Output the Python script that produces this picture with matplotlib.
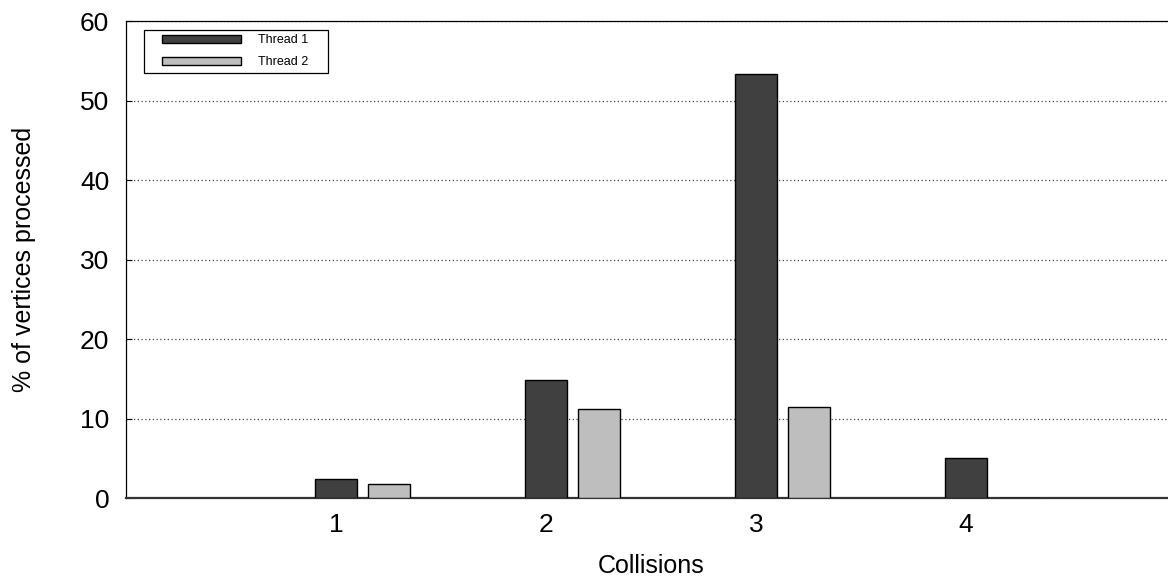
import numpy as np
import matplotlib
matplotlib.use("Agg")
import matplotlib.pyplot as plt
from matplotlib.patches import Rectangle
from matplotlib.container import BarContainer
from matplotlib.legend_handler import HandlerPatch, update_from_first_child

plt.rcParams['font.family'] = ['Liberation Sans', 'DejaVu Sans']

collisions = [1, 2, 3, 4]
thread1 = [2.35, 14.9, 53.3, 5.0]
thread2 = [1.75, 11.2, 11.4, 0.0]
labels = ['Thread 1', 'Thread 2']
colors = ['#404040', '#bebebe']


def inset_key(legend, orig_handle, xdescent, ydescent, width, height, fontsize):
    # key box sits a little in from the frame, like gnuplot's
    off = 10
    return Rectangle((-xdescent + off, -ydescent), width - off, height)


fig = plt.figure(figsize=(11.68, 5.85), dpi=100)
ax = fig.add_axes([0.1079, 0.1487, 0.8990, 0.8153])

x = np.array(collisions, dtype=float)
w = 0.2
ax.bar(x, thread1, width=w, color=colors[0], edgecolor='black', linewidth=1, label=labels[0], zorder=3)
ax.bar(x + 0.25, thread2, width=w, color=colors[1], edgecolor='black', linewidth=1, label=labels[1], zorder=3)

ax.set_xlim(0, 5)
ax.set_ylim(0, 60)
ax.set_xticks(collisions)
ax.set_yticks(range(0, 61, 10))
ax.tick_params(axis='y', direction='in', length=4, labelsize=19, pad=12)
ax.tick_params(axis='x', length=0, labelsize=19, pad=11)

ax.yaxis.grid(True, linestyle=(0, (1, 2)), color='#444444', linewidth=0.9, zorder=0)
ax.set_axisbelow(True)

ax.spines['right'].set_visible(False)
ax.spines['bottom'].set_linewidth(1.6)
ax.spines['bottom'].set_color('#333333')
ax.spines['top'].set_linewidth(0.9)
ax.spines['left'].set_linewidth(0.9)

ax.set_xlabel('Collisions', fontsize=18, labelpad=12)
ax.set_ylabel('% of vertices processed', fontsize=18, labelpad=32)

key = HandlerPatch(patch_func=inset_key, update_func=update_from_first_child)
leg = ax.legend(loc='upper left', bbox_to_anchor=(0.0171, 0.8952, 0.1752, 0.086),
                mode='expand', borderaxespad=0,
                fontsize=9, fancybox=False, edgecolor='black', framealpha=1,
                handlelength=7.4, handleheight=0.72, labelspacing=0.8,
                borderpad=0.35, handletextpad=1.4,
                handler_map={BarContainer: key})
leg.get_frame().set_linewidth(0.9)

fig.savefig('out.png', dpi=100)
